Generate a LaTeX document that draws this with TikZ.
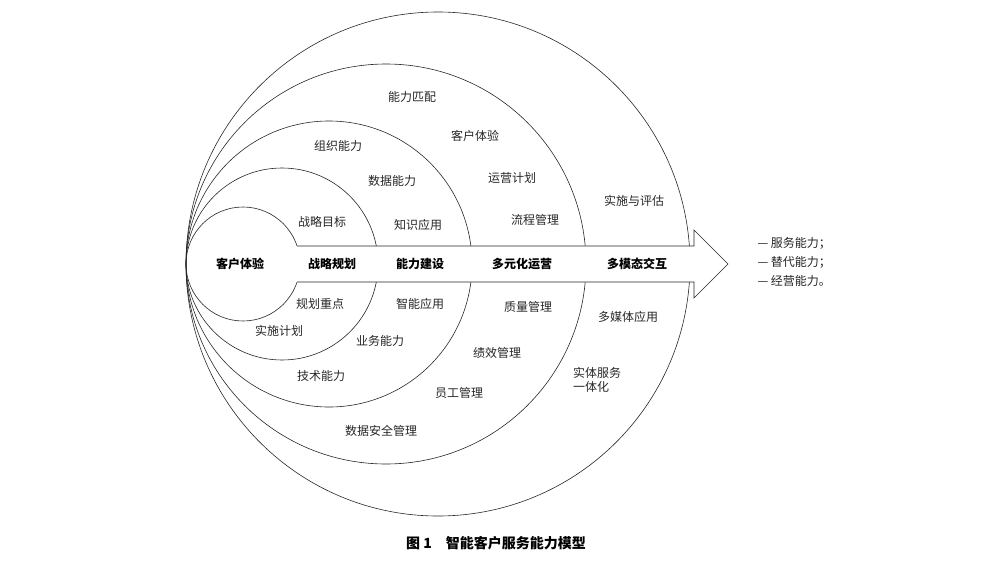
\documentclass[tikz,border=0pt]{standalone}
\usepackage{fontspec}
\setmainfont{Noto Sans CJK SC}
\usetikzlibrary{calc}

\tikzset{
  ring/.style={draw=black!85, line width=0.6pt},
  item/.style={font=\fontsize{12}{14}\selectfont, text=black!85},
  stage/.style={font=\fontsize{12}{14}\selectfont\bfseries, text=black},
}

\begin{document}
\begin{tikzpicture}[x=1pt, y=-1pt]
  \useasboundingbox (0,0) rectangle (991,565);

  % --- Nested circles, all touching at the left point
  \coordinate (L) at (186,264);
  \foreach \r/\n in {252/e, 200/d, 143/c, 96/b, 57/a} {
    \draw[ring] ($(L)+(\r,0)$) circle[radius=\r];
  }

  % --- Arrow band over the circles
  \coordinate (T0) at (297,246);
  \coordinate (B0) at (297,282);
  \coordinate (H1) at (694,246);
  \coordinate (H2) at (694,282);
  \fill[white] (243,246) -- (H1) -- (694,230) -- (728,264) -- (694,298) -- (H2) -- (243,282) -- cycle;
  \draw[ring] (T0) -- (H1) -- (694,230) -- (728,264) -- (694,298) -- (H2) -- (B0);

  % --- Stages on the arrow
  \node[stage] (s1) at (240,264) {客户体验};
  \node[stage] (s2) at (332,264) {战略规划};
  \node[stage] (s3) at (420,264) {能力建设};
  \node[stage] (s4) at (522,264) {多元化运营};
  \node[stage] (s5) at (637,264) {多模态交互};

  % --- Upper half
  \node[item] (u1) at (322,222) {战略目标};
  \node[item] (u2) at (338,146) {组织能力};
  \node[item] (u3) at (392,181) {数据能力};
  \node[item] (u4) at (418,225) {知识应用};
  \node[item] (u5) at (412,97)  {能力匹配};
  \node[item] (u6) at (475,136) {客户体验};
  \node[item] (u7) at (512,178) {运营计划};
  \node[item] (u8) at (535,220) {流程管理};
  \node[item] (u9) at (634,201) {实施与评估};

  % --- Lower half
  \node[item] (l1) at (320,304) {规划重点};
  \node[item] (l2) at (279,331) {实施计划};
  \node[item] (l3) at (420,304) {智能应用};
  \node[item] (l4) at (380,341) {业务能力};
  \node[item] (l5) at (321,376) {技术能力};
  \node[item] (l6) at (528,307) {质量管理};
  \node[item] (l7) at (497,353) {绩效管理};
  \node[item] (l8) at (459,393) {员工管理};
  \node[item] (l9) at (381,431) {数据安全管理};
  \node[item] (l10) at (628,317) {多媒体应用};
  \node[item, align=left] (l11) at (597,380) {实体服务\\一体化};

  % --- Outcomes
  \node[item, anchor=west] (o1) at (754,243) {— 服务能力；};
  \node[item, anchor=west] (o2) at (754,262) {— 替代能力；};
  \node[item, anchor=west] (o3) at (754,281) {— 经营能力。};

  \node[font=\fontsize{14}{16}\selectfont\bfseries] (cap) at (496,543) {图 1\quad 智能客户服务能力模型};
\end{tikzpicture}
\end{document}
